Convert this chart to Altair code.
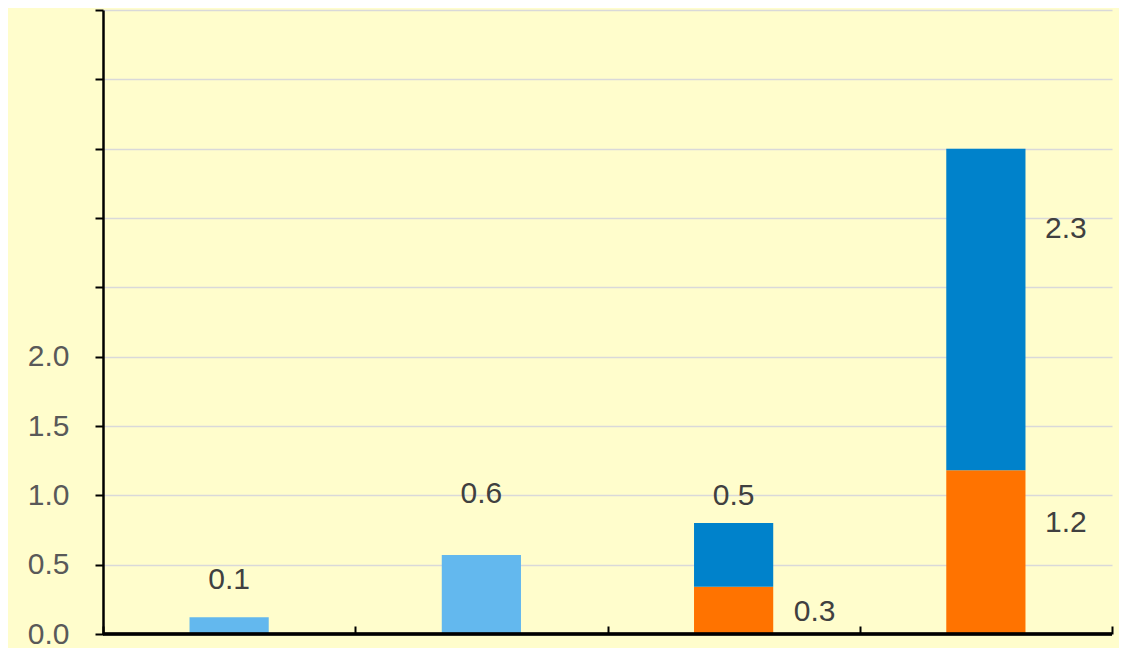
import altair as alt
import pandas as pd

# ---- data ----
categories = ["A", "B", "C", "D"]
light_values = [0.12, 0.57, None, None]
orange_values = [None, None, 0.34, 1.18]
blue_values = [None, None, 0.46, 2.32]

series_names = ["light", "orange", "blue"]
series_colors = ["#63B8EE", "#FF7300", "#0082CB"]
series_order = [0, 0, 1]
y_ticks = [0.0, 0.5, 1.0, 1.5, 2.0, 2.5, 3.0, 3.5, 4.0, 4.5]

rows = []
for name, vals, order in zip(series_names, [light_values, orange_values, blue_values], series_order):
    for c, v in zip(categories, vals):
        if v is not None:
            rows.append({"cat": c, "series": name, "value": v, "order": order})
df = pd.DataFrame(rows)

# label placement (pixel offsets from the top of each segment) - styling only
label_offsets = {
    ("A", "light"): (0, -37),
    ("B", "light"): (0, -61),
    ("C", "blue"): (0, -27),
    ("C", "orange"): (81, 25),
    ("D", "blue"): (80, 80),
    ("D", "orange"): (80, 53),
}

FONT = "Liberation Sans"
FS = 30

x_enc = alt.X(
    "cat:N",
    sort=categories,
    title=None,
    scale=alt.Scale(paddingInner=0, paddingOuter=0),
    axis=alt.Axis(labels=False, domain=False, ticks=True, tickBand="extent",
                  tickSize=8, tickWidth=2, tickColor="black", offset=-8,
                  grid=False, title=None),
)

y_scale = alt.Scale(domain=[0, 4.5], nice=False)

base = alt.Chart(df)

bars = base.mark_bar(width=alt.RelativeBandSize(0.314)).encode(
    x=x_enc,
    y=alt.Y(
        "value:Q",
        stack="zero",
        scale=y_scale,
        title=None,
        axis=alt.Axis(values=y_ticks,
                      labelExpr="datum.value <= 2 ? format(datum.value, '.1f') : ''",
                      tickSize=8, tickWidth=2, tickColor="black",
                      domainColor="black", domainWidth=2.5,
                      gridColor="#D9D9D9", gridWidth=1.5,
                      labelFont=FONT, labelFontSize=FS, labelColor="#595959",
                      labelPadding=26),
    ),
    color=alt.Color("series:N", scale=alt.Scale(domain=series_names, range=series_colors), legend=None),
    order=alt.Order("order:Q", sort="ascending"),
)

baseline = alt.Chart(df).mark_rule(color="black", strokeWidth=2.5).encode(y=alt.datum(0))

text_layers = []
for (c, s), (dx, dy) in label_offsets.items():
    t = (
        base.transform_stack(
            stack="value", groupby=["cat"], as_=["y0", "y1"],
            sort=[alt.SortField("order", order="ascending")],
        )
        .transform_filter(f"datum.cat == '{c}' && datum.series == '{s}'")
        .transform_calculate(label="format(datum.value, '.1f')")
        .mark_text(font=FONT, fontSize=FS, color="#404040", dx=dx, dy=dy,
                   align="center", baseline="middle")
        .encode(x=alt.X("cat:N", sort=categories), y=alt.Y("y1:Q", scale=y_scale), text="label:N")
    )
    text_layers.append(t)

chart = (
    alt.layer(bars, baseline, *text_layers)
    .properties(width=1009, height=624,
                autosize=alt.AutoSizeParams(type="none"),
                padding={"left": 95, "top": 2, "right": 7, "bottom": 14},
                background="#FFFDCC")
    .configure_view(stroke=None)
)

chart.save("out.html", embed_options={"renderer": "svg", "actions": False})
